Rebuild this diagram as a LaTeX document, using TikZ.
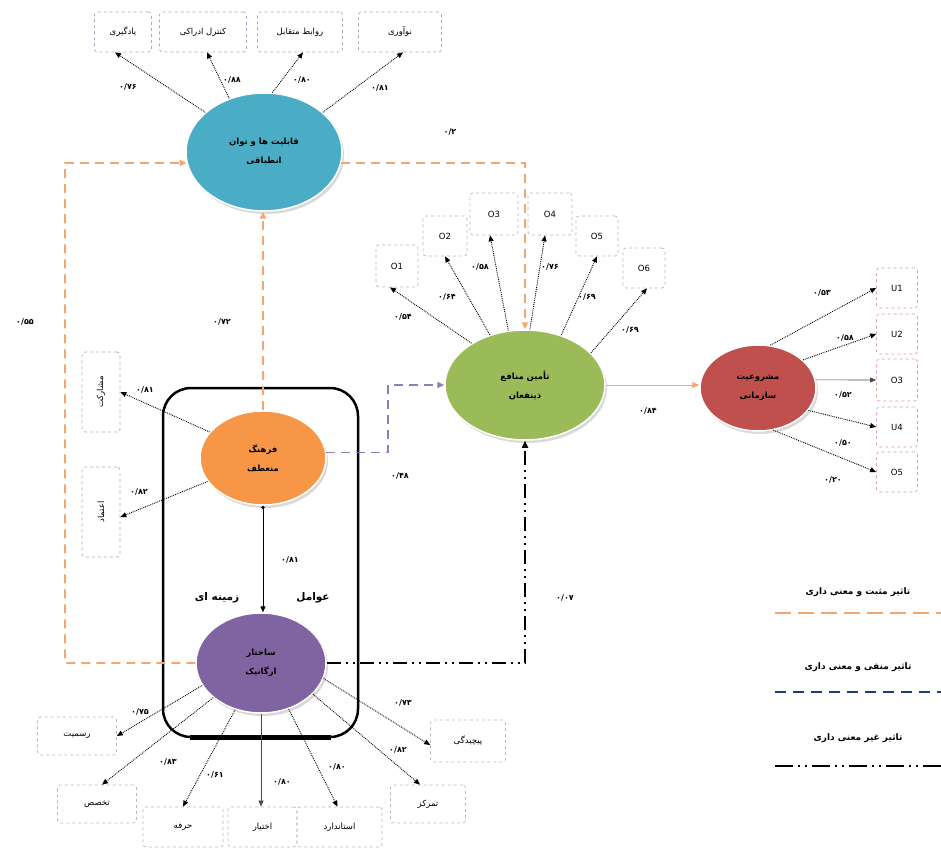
\documentclass[tikz,border=0pt]{standalone}
\usepackage{fontspec}
\usetikzlibrary{shapes.geometric,arrows.meta,calc}
\TeXXeTstate=1
\newfontfamily\arabicfont[Script=Arabic]{DejaVu Sans}
\newcommand{\fa}[1]{{\arabicfont\beginR #1\endR}}
\definecolor{cblue}{HTML}{4BACC6}
\definecolor{corange}{HTML}{F79646}
\definecolor{cgreen}{HTML}{9BBB59}
\definecolor{cred}{HTML}{C0504D}
\definecolor{cpurple}{HTML}{8064A2}
\definecolor{oline}{HTML}{F4A66E}
\definecolor{pline}{HTML}{8B80B6}
\definecolor{navy}{HTML}{1F3D7A}
\definecolor{bgrey}{HTML}{9FAFC0}
\begin{document}
\begin{tikzpicture}[x=1pt,y=-1pt,
  ell/.style={ellipse, inner sep=0pt, draw=white, line width=1.5pt,
    font=\arabicfont\bfseries\fontsize{8.5}{19}\selectfont, align=center,
    preaction={fill=black!15, transform canvas={xshift=2pt,yshift=-3pt}}},
  gbox/.style={draw=gray!55, dashed, rounded corners=3pt, inner sep=0pt, line width=0.7pt,
    font=\arabicfont\fontsize{8.5}{10}\selectfont},
  tbox/.style={gbox, draw=bgrey},
  rbox/.style={gbox, draw=cred!55},
  arr/.style={-{Triangle[length=6pt,width=5pt]}, densely dotted, line width=0.9pt},
  sarr/.style={-{Triangle[length=6pt,width=5pt]}, line width=0.6pt, draw=black!70},
  odash/.style={draw=oline, line width=1.8pt, dash pattern=on 9pt off 6pt,
    -{Triangle[length=7pt,width=6pt]}},
  lbl/.style={font=\arabicfont\bfseries\fontsize{8}{9}\selectfont, inner sep=1pt},
  legtxt/.style={font=\arabicfont\bfseries\fontsize{9}{10}\selectfont, inner sep=1pt},
  frame/.style={draw=black, line width=2.5pt, rounded corners=28pt, inner sep=0pt}
]
\useasboundingbox[fill=white] (0,0) rectangle (941,850);

% frame
\node[frame, minimum width=195, minimum height=349] (frame) at (260.5,562.5) {};
\coordinate (fbl) at (190,737);
\coordinate (fbr) at (331,737);
\draw[line width=5pt] (fbl) -- (fbr);
\node[font=\arabicfont\bfseries\fontsize{10.5}{12}\selectfont] (zam) at (217,598) {\fa{زمینه ای}};
\node[font=\arabicfont\bfseries\fontsize{10.5}{12}\selectfont] (avam) at (313,598) {\fa{عوامل}};

% ellipses
\node[ell, fill=cblue, minimum width=156, minimum height=118] (blue) at (264,152) {\fa{قابلیت ها و توان}\\\fa{انطباقی}};
\node[ell, fill=corange, minimum width=126, minimum height=94] (orange) at (263,458) {\fa{فرهنگ}\\\fa{منعطف}};
\node[ell, fill=cpurple, minimum width=130, minimum height=100] (purple) at (261,663) {\fa{ساختار}\\\fa{ارگانیک}};
\node[ell, fill=cgreen, minimum width=160, minimum height=110] (green) at (525,385) {\fa{تأمین منافع}\\\fa{ذینفعان}};
\node[ell, fill=cred, minimum width=116, minimum height=86] (red) at (758,388) {\fa{مشروعیت}\\\fa{سازمانی}};

% top boxes
\node[tbox, minimum width=57, minimum height=40] (b1) at (123,32) {\fa{یادگیری}};
\node[tbox, minimum width=87, minimum height=40] (b2) at (203,32) {\fa{کنترل ادراکی}};
\node[tbox, minimum width=85, minimum height=40] (b3) at (300,32) {\fa{روابط متقابل}};
\node[tbox, minimum width=83, minimum height=40] (b4) at (400,32) {\fa{نوآوری}};
\draw[arr] (blue.146) -- ([xshift=-8pt]b1.south);
\draw[arr] (blue.123) -- ([xshift=4pt]b2.south);
\draw[arr] (blue.82) -- ([xshift=3pt]b3.south);
\draw[arr] (blue.34) -- ([xshift=3pt]b4.south);
\node[lbl] at (128,87) {۰/۷۶};
\node[lbl] at (232,80) {۰/۸۸};
\node[lbl] at (302,80) {۰/۸۰};
\node[lbl] at (380,88) {۰/۸۱};

% left boxes
\node[gbox, draw=cred!30!gray!60, minimum width=38, minimum height=80] (la) at (101,392) {\rotatebox{90}{\fa{مشارکت}}};
\node[gbox, draw=cred!30!gray!60, minimum width=38, minimum height=90] (lb) at (101,512) {\rotatebox{90}{\fa{اعتماد}}};
\draw[arr] (orange.154) -- (la.east);
\draw[arr] (orange.203) -- ([yshift=-5pt]lb.east);
\node[lbl] at (145,390) {۰/۸۱};
\node[lbl] at (139,492) {۰/۸۲};

% green boxes
\node[gbox, minimum width=42, minimum height=42] (o1) at (397,266) {O1};
\node[gbox, minimum width=44, minimum height=40] (o2) at (445,236) {O2};
\node[gbox, minimum width=48, minimum height=42] (o3) at (494,214) {O3};
\node[gbox, minimum width=44, minimum height=42] (o4) at (550,214) {O4};
\node[gbox, minimum width=42, minimum height=40] (o5) at (597,236) {O5};
\node[gbox, minimum width=42, minimum height=40] (o6) at (644,268) {O6};
\draw[arr] (green.142) -- ([xshift=-7pt]o1.south);
\draw[arr] (green.125) -- (o2.south);
\draw[arr] (green.107) -- ([xshift=-4pt]o3.south);
\draw[arr] (green.85) -- ([xshift=-5pt]o4.south);
\draw[arr] (green.54) -- (o5.south);
\draw[arr] (green.26) -- ([xshift=3pt]o6.south);
\node[lbl] at (403,317) {۰/۵۴};
\node[lbl] at (447,297) {۰/۶۴};
\node[lbl] at (480,267) {۰/۵۸};
\node[lbl] at (550,267) {۰/۷۶};
\node[lbl] at (587,297) {۰/۶۹};
\node[lbl] at (630,330) {۰/۶۹};

% red boxes
\node[rbox, minimum width=41, minimum height=40] (u1) at (897,288) {U1};
\node[rbox, minimum width=41, minimum height=40] (u2) at (897,334) {U2};
\node[rbox, minimum width=41, minimum height=42] (u3) at (897,380) {O3};
\node[rbox, minimum width=41, minimum height=40] (u4) at (897,427) {U4};
\node[rbox, minimum width=41, minimum height=40] (u5) at (897,472) {O5};
\draw[arr] (red.74) -- (u1.west);
\draw[arr] (red.32) -- (u2.west);
\draw[sarr] (red.8) -- (u3.west);
\draw[arr] (red.-24) -- (u4.west);
\draw[arr] (red.-70) -- (u5.west);
\node[lbl] at (822,293) {۰/۵۳};
\node[lbl] at (845,338) {۰/۵۸};
\node[lbl] at (843,395) {۰/۵۲};
\node[lbl] at (843,443) {۰/۵۰};
\node[lbl] at (833,480) {۰/۲۰};

% bottom boxes
\node[gbox, minimum width=79, minimum height=38] (r1) at (77,736) {\fa{رسمیت}};
\node[gbox, minimum width=79, minimum height=38] (r2) at (97,804) {\fa{تخصص}};
\node[gbox, minimum width=80, minimum height=40] (r3) at (183,827) {\fa{حرفه}};
\node[gbox, minimum width=69, minimum height=40] (r4) at (262.5,827) {\fa{اختیار}};
\node[gbox, minimum width=85, minimum height=40] (r5) at (339.5,827) {\fa{استاندارد}};
\node[gbox, minimum width=75, minimum height=38] (r6) at (428,804) {\fa{تمرکز}};
\node[gbox, minimum width=75, minimum height=42] (r7) at (468,741) {\fa{پیچیدگی}};
\draw[arr] (purple.201) -- (r1.east);
\draw[arr] (purple.216) -- ([xshift=5pt]r2.north);
\draw[arr] (purple.241) -- (r3.north);
\draw[sarr] (purple.south) -- ([xshift=-1.5pt]r4.north);
\draw[arr] (purple.301) -- ([xshift=-2pt]r5.north);
\draw[arr] (purple.329) -- ([xshift=-8pt]r6.north);
\draw[arr] (purple.346) -- ([yshift=-4pt]r7.west);
\node[lbl] at (140,712) {۰/۷۵};
\node[lbl] at (168,762) {۰/۸۳};
\node[lbl] at (215,775) {۰/۶۱};
\node[lbl] at (282,782) {۰/۸۰};
\node[lbl] at (337,767) {۰/۸۰};
\node[lbl] at (398,750) {۰/۸۲};
\node[lbl] at (403,703) {۰/۷۳};

% structural paths
\coordinate (lft) at (65,163);
\draw[odash] (purple.west) -| (lft) -- (blue.188);
\node[lbl] at (25,322) {۰/۵۵};
\draw[odash] (orange.north) -- (orange.north |- blue.south);
\node[lbl] at (222,322) {۰/۷۲};
\draw[odash] (blue.-8) -| (green.north);
\node[lbl] at (450,132) {۰/۲};
\draw[{Circle[length=3.5pt]}-{Triangle[length=6pt,width=5pt]}, line width=1pt] (orange.south) -- (orange.south |- purple.north);
\node[lbl] at (290,560) {۰/۸۱};
\draw[draw=pline, line width=1.8pt, dash pattern=on 9pt off 6pt, -{Triangle[length=7pt,width=6pt]}]
  (orange.5) -- ++(62,0) |- (green.west);
\node[lbl] at (400,476) {۰/۴۸};
\draw[line width=1.6pt, dash pattern=on 14pt off 5pt on 2pt off 5pt on 2pt off 5pt,
  -{Triangle[length=7pt,width=6pt]}] (purple.east) -| (green.south);
\node[lbl] at (565,598) {۰/۰۷};
\draw[draw=oline, line width=1pt, -{Triangle[length=7pt,width=6pt]}] (green.east) -- (green.east -| red.west);
\node[lbl] at (648,411) {۰/۸۴};

% legend
\coordinate (l1a) at (775,613); \coordinate (l1b) at (941,613);
\coordinate (l2a) at (775,692); \coordinate (l2b) at (941,692);
\coordinate (l3a) at (775,766); \coordinate (l3b) at (941,766);
\node[legtxt] (t1) at (858,592) {\fa{تاثیر مثبت و معنی داری}};
\node[legtxt] (t2) at (858,667) {\fa{تاثیر منفی و معنی داری}};
\node[legtxt] (t3) at (858,738) {\fa{تاثیر غیر معنی داری}};
\draw[draw=oline, line width=1.5pt, dash pattern=on 16pt off 7pt] (l1a) -- (l1b);
\draw[draw=navy, line width=2.5pt, dash pattern=on 11pt off 7pt] (l2a) -- (l2b);
\draw[line width=2pt, dash pattern=on 18pt off 5pt on 2pt off 5pt on 2pt off 5pt] (l3a) -- (l3b);
\end{tikzpicture}
\end{document}
